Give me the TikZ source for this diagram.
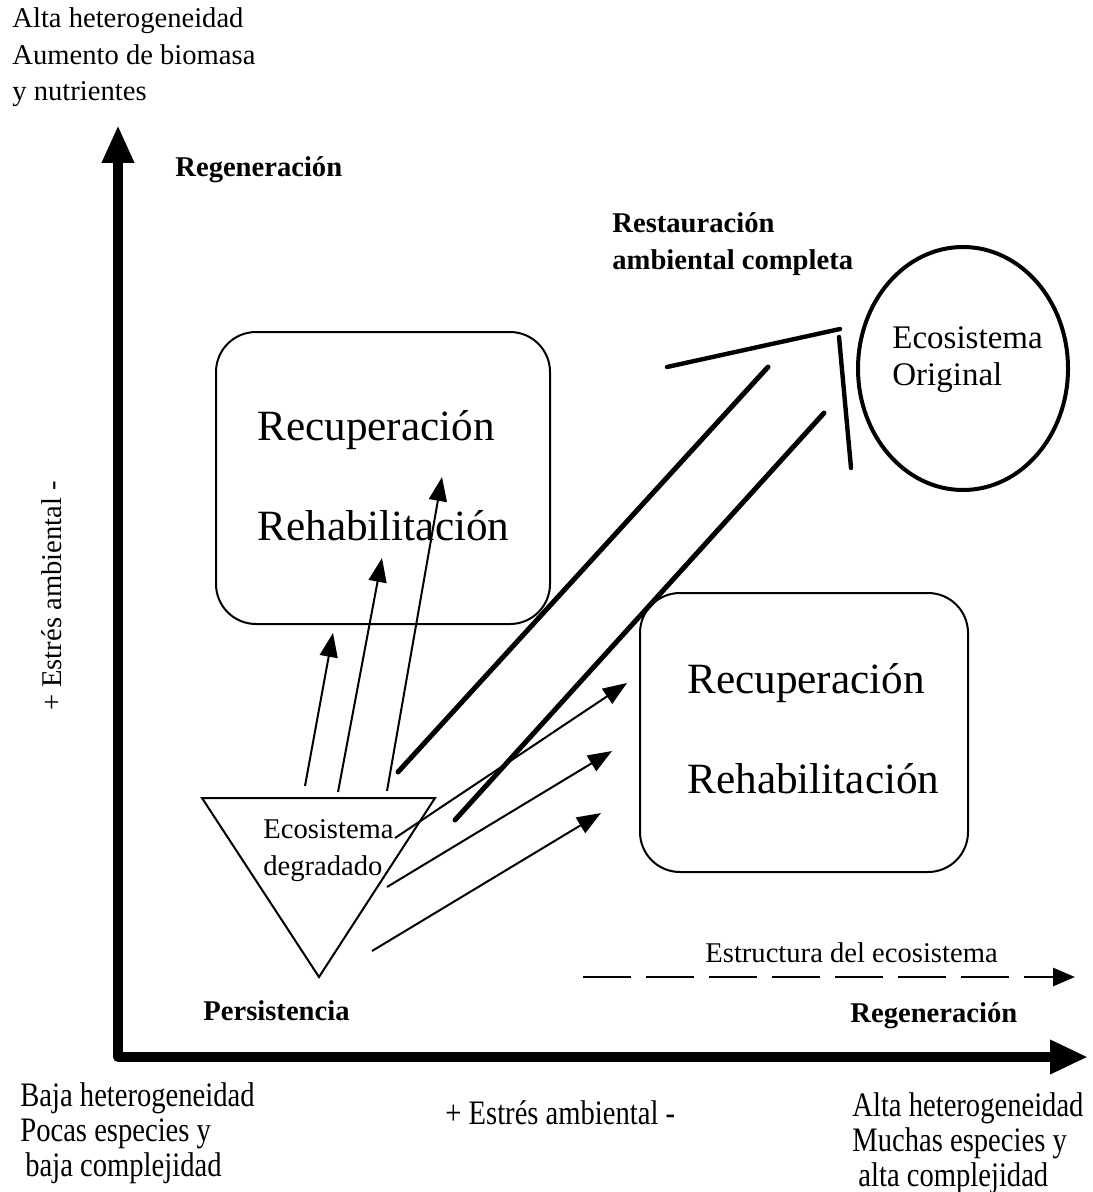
\documentclass[tikz,border=0pt]{standalone}
\usepackage{fontspec}
\setmainfont{Liberation Serif}
\usetikzlibrary{arrows.meta,shapes.geometric}
\begin{document}
\begin{tikzpicture}[x=0.5pt,y=-0.5pt,
  txt/.style={inner sep=0pt, anchor=base west, font=\fontsize{14.3}{17}\selectfont},
  btxt/.style={txt, font=\fontsize{14.3}{17}\selectfont\bfseries},
  bigtxt/.style={txt, font=\fontsize{21.6}{26}\selectfont},
  elltxt/.style={txt, font=\fontsize{16.5}{20}\selectfont},
  axisline/.style={line width=5pt, line join=round, {Triangle[length=19pt,width=15pt]}-{Triangle[length=19pt,width=16pt]}},
  thinarrow/.style={line width=1pt, -{Triangle[length=12pt,width=9pt]}},
  thickline/.style={line width=2.5pt, line cap=round},
  roundbox/.style={draw, line width=1pt, rounded corners=20pt, inner sep=0pt},
  dashedarrow/.style={line width=1.3pt, dash pattern=on 24pt off 7.5pt, -{Triangle[length=11pt,width=9pt]}}
]
\useasboundingbox (0,0) rectangle (1092,1192);

% axes
\coordinate (origin) at (118,1057);
\coordinate (ytip) at (118,125);
\coordinate (xtip) at (1088,1057);
\draw[axisline] (ytip) -- (origin) -- (xtip);

% top-left texts
\node[txt] (tl1) at (12,28) {Alta heterogeneidad};
\node[txt] (tl2) at (12,65) {Aumento de biomasa};
\node[txt] (tl3) at (12,101) {y nutrientes};
\node[btxt] (regtop) at (175,177) {Regeneración};

% restauration label
\node[btxt] (rest1) at (612,233) {Restauración};
\node[btxt] (rest2) at (612,270) {ambiental completa};

% boxes
\node[roundbox, minimum width=167pt, minimum height=146pt] (box1) at (383,478) {};
\node[bigtxt] (b1a) at (257,440) {Recuperación};
\node[bigtxt] (b1b) at (257,540) {Rehabilitación};

\node[roundbox, minimum width=164pt, minimum height=139.5pt] (box2) at (804,732.5) {};
\node[bigtxt] (b2a) at (687,693) {Recuperación};
\node[bigtxt] (b2b) at (687,793) {Rehabilitación};

% ellipse
\node[draw, ellipse, line width=2pt, minimum width=105pt, minimum height=121.5pt, inner sep=0pt] (orig) at (963,368.5) {};
\node[elltxt] (o1) at (892,348) {Ecosistema};
\node[elltxt] (o2) at (892,385) {Original};

% bars next to ellipse
\coordinate (bar1a) at (667,367);
\coordinate (bar1b) at (840,329);
\coordinate (bar2a) at (839,337);
\coordinate (bar2b) at (851,468);
\draw[thickline, line width=2.2pt] (bar1a) -- (bar1b);
\draw[thickline, line width=2.2pt] (bar2a) -- (bar2b);

% triangle
\coordinate (triA) at (202,798);
\coordinate (triB) at (435,798);
\coordinate (triC) at (319,977);
\draw[line width=1pt, line join=miter] (triA) -- (triB) -- (triC) -- cycle;
\node[txt] (d1) at (263,838) {Ecosistema};
\node[txt] (d2) at (263,875) {degradado};

% thin arrows up
\coordinate (u1s) at (305,786); \coordinate (u1e) at (333,633);
\coordinate (u2s) at (338,792); \coordinate (u2e) at (382,558);
\coordinate (u3s) at (387,791); \coordinate (u3e) at (442,477);
\draw[thinarrow] (u1s) -- (u1e);
\draw[thinarrow] (u2s) -- (u2e);
\draw[thinarrow] (u3s) -- (u3e);

% thin arrows right
\coordinate (r1s) at (395,838); \coordinate (r1e) at (627,683);
\coordinate (r2s) at (387,887); \coordinate (r2e) at (612,751);
\coordinate (r3s) at (372,951); \coordinate (r3e) at (601,813);
\draw[thinarrow] (r1s) -- (r1e);
\draw[thinarrow] (r2s) -- (r2e);
\draw[thinarrow] (r3s) -- (r3e);

% thick lines
\coordinate (t1s) at (398,772); \coordinate (t1e) at (768,367);
\coordinate (t2s) at (455,820); \coordinate (t2e) at (824,413);
\draw[thickline] (t1s) -- (t1e);
\draw[thickline] (t2s) -- (t2e);

% structure dashed arrow
\node[txt] (estr) at (705,962) {Estructura del ecosistema};
\coordinate (ds) at (583,977);
\coordinate (de) at (1075,977);
\draw[dashedarrow] (ds) -- (de);

\node[btxt] (pers) at (203,1020) {Persistencia};
\node[btxt] (regbot) at (850,1022) {Regeneración};

% y-axis label
\node[inner sep=0pt, rotate=90, font=\fontsize{14.3}{17}\selectfont] (ylab) at (52,596) {+ Estrés ambiental -};

% bottom texts
\node[txt] (bl1) at (20,1106) {\scalebox{1}[1.2]{Baja heterogeneidad}};
\node[txt] (bl2) at (20,1141) {\scalebox{1}[1.2]{Pocas especies y}};
\node[txt] (bl3) at (25,1176) {\scalebox{1}[1.2]{baja complejidad}};
\node[txt] (xlab) at (445,1124) {\scalebox{1}[1.2]{+ Estrés ambiental -}};
\node[txt] (br1) at (852,1116) {\scalebox{1}[1.2]{Alta heterogeneidad}};
\node[txt] (br2) at (852,1151) {\scalebox{1}[1.2]{Muchas especies y}};
\node[txt] (br3) at (858,1186) {\scalebox{1}[1.2]{alta complejidad}};
\end{tikzpicture}
\end{document}
